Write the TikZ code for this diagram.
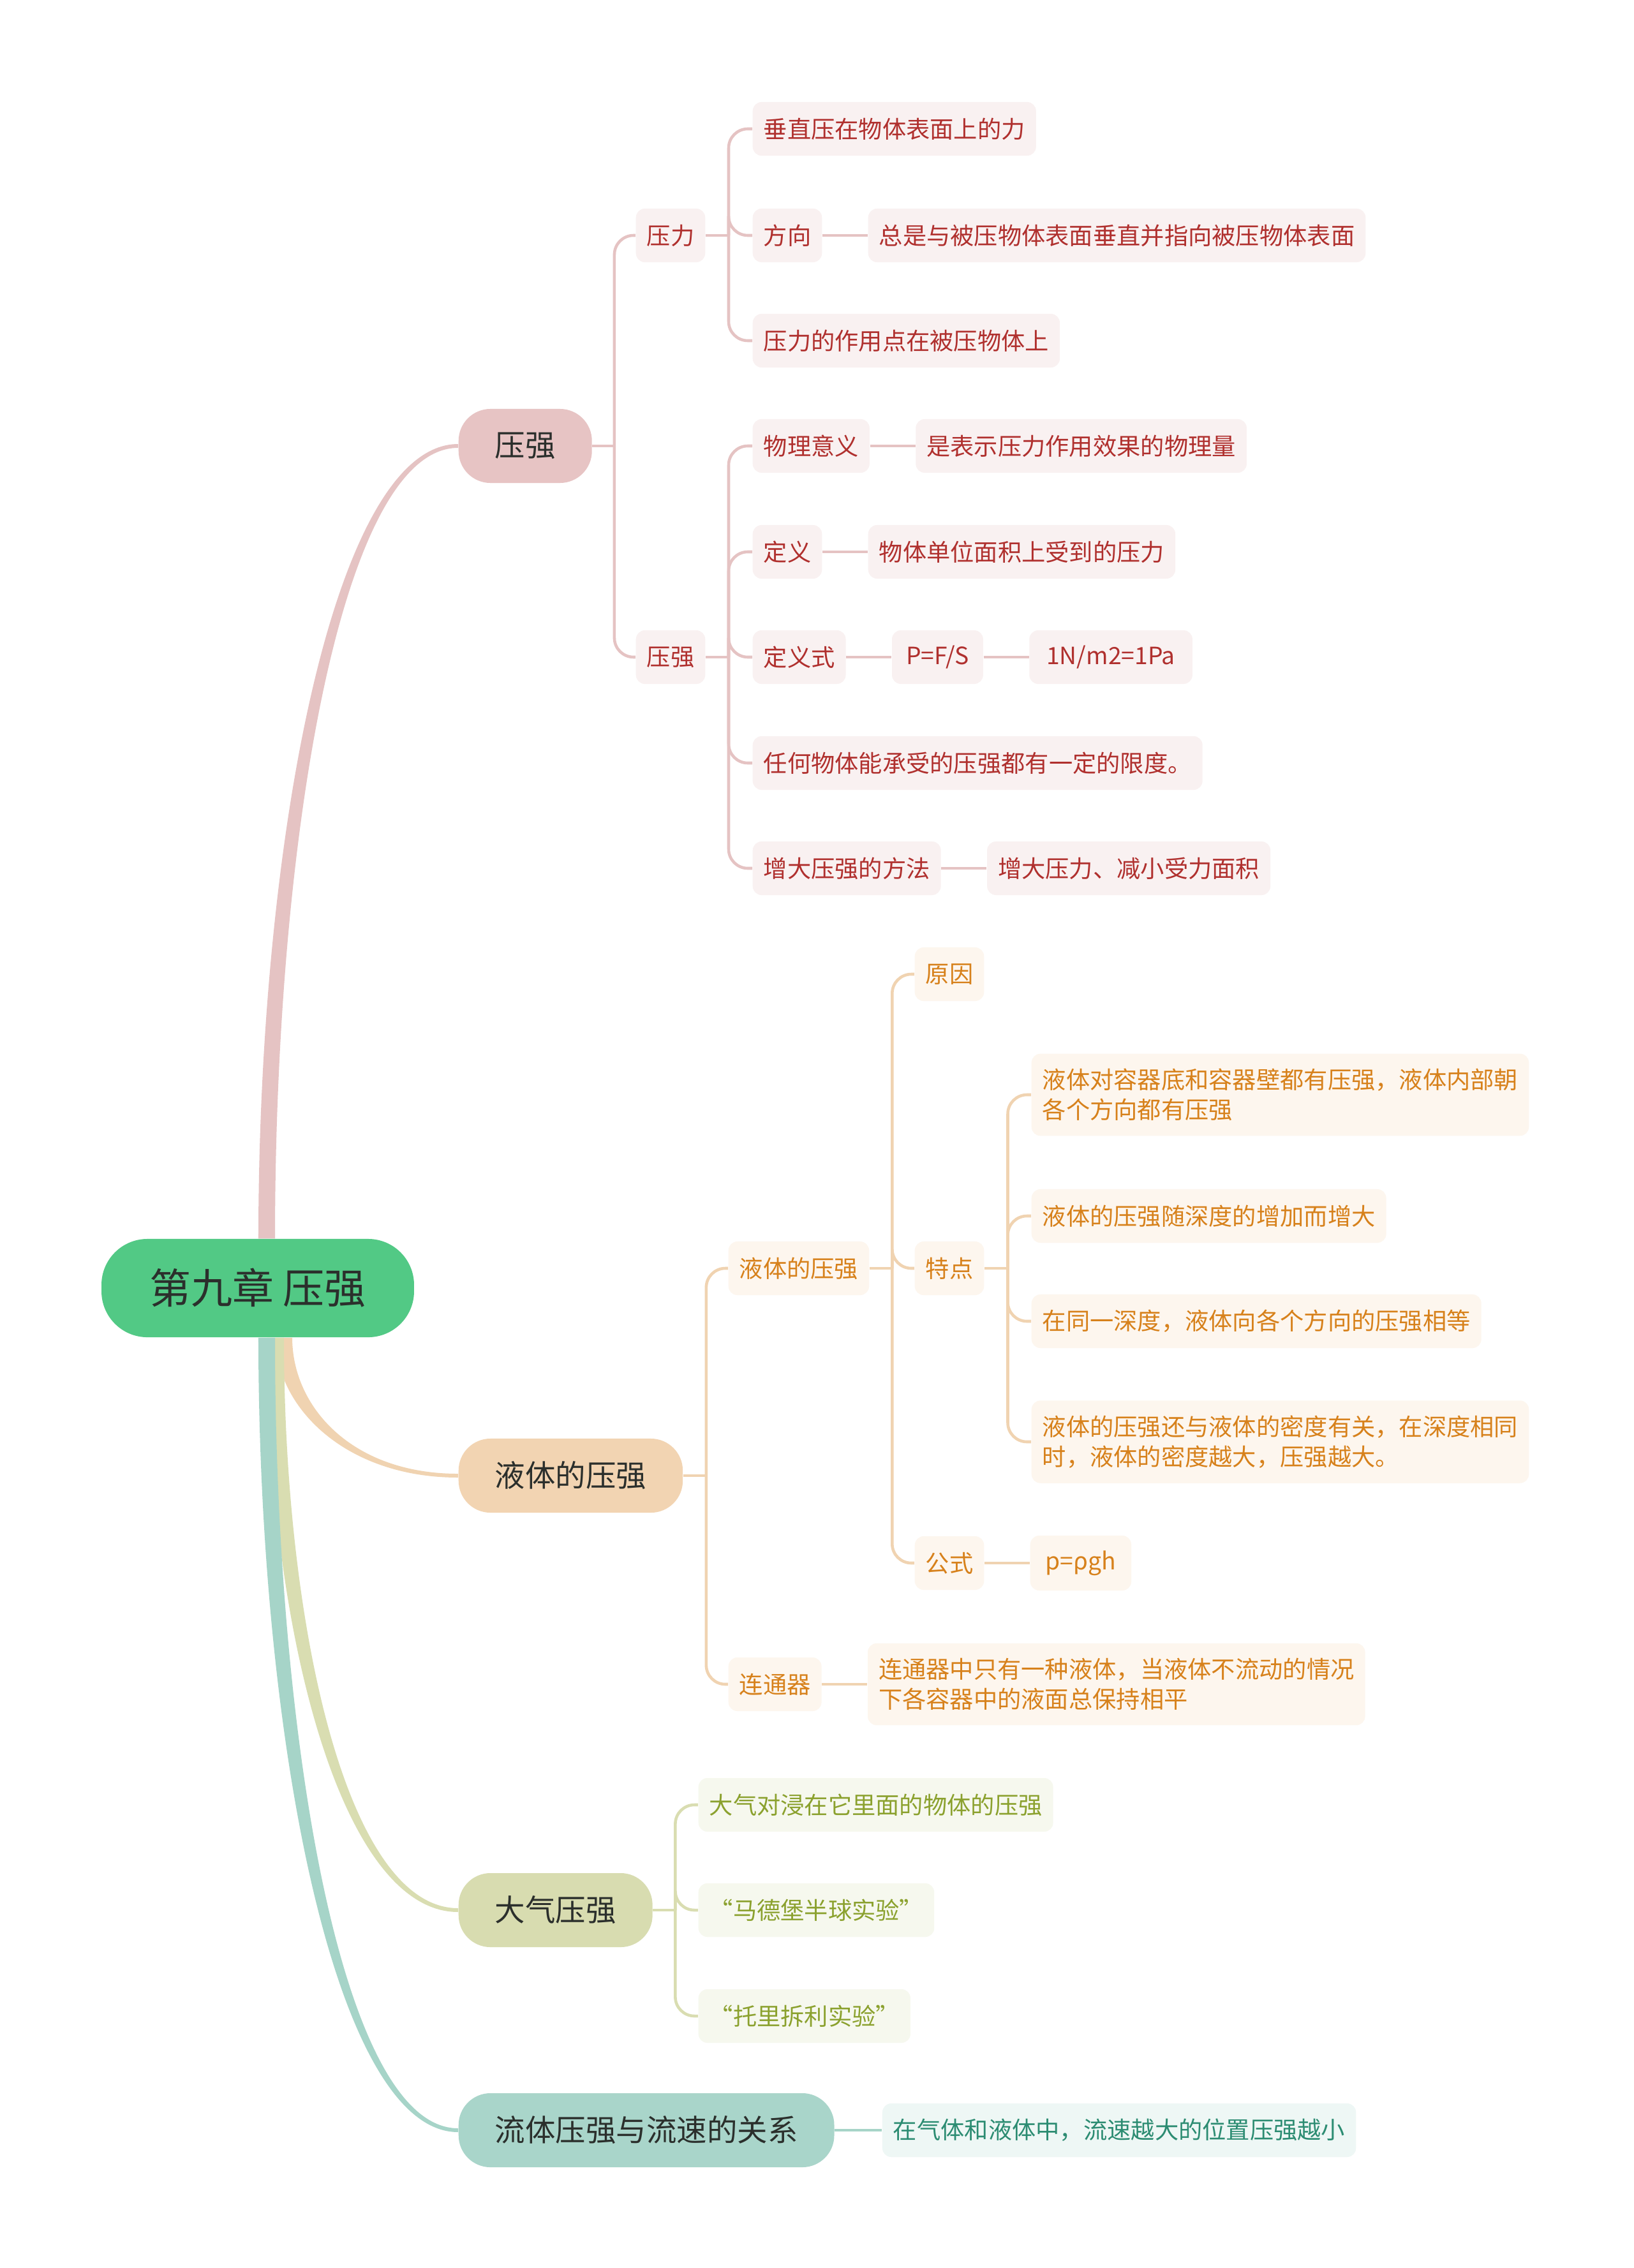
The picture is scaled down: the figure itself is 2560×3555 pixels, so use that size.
\documentclass[tikz,border=0pt]{standalone}
\usepackage{fontspec}
\setmainfont{Noto Sans CJK SC}
\usepackage{tikz}
\usetikzlibrary{positioning,calc,backgrounds}
\definecolor{rootgreen}{HTML}{52C985}
\definecolor{darktext}{HTML}{2B2F2C}
\definecolor{pinkmain}{HTML}{E7C4C4}
\definecolor{pinkleaf}{HTML}{F9F1F1}
\definecolor{pinktext}{HTML}{B0302E}
\definecolor{pinkline}{HTML}{E5C3C3}
\definecolor{orangemain}{HTML}{F2D4B2}
\definecolor{orangeleaf}{HTML}{FDF6EE}
\definecolor{orangetext}{HTML}{D7811B}
\definecolor{orangeline}{HTML}{F0D3B1}
\definecolor{olivemain}{HTML}{D8DCB0}
\definecolor{oliveleaf}{HTML}{F6F8EE}
\definecolor{olivetext}{HTML}{8BA12E}
\definecolor{oliveline}{HTML}{D9DDB1}
\definecolor{tealmain}{HTML}{A9D5CA}
\definecolor{tealleaf}{HTML}{EEF7F5}
\definecolor{tealtext}{HTML}{2C8C72}
\definecolor{tealline}{HTML}{A6D4C8}
% tapered main branch: colour, start, end, +1 up / -1 down
\newcommand{\branch}[4]{%
  \fill[#1] let \p1=(#2), \p2=(#3) in
    (\x1-3.7pt,\y1) .. controls (\x1-3.7pt,{0.5*\y1+0.5*\y2}) and ({\x1+0.35*(\x2-\x1)},{\y2+(#4)*0.85pt}) .. (\x2,{\y2+(#4)*0.85pt})
    -- (\x2,{\y2-(#4)*0.85pt}) .. controls ({\x1+0.35*(\x2-\x1)+3pt},{\y2-(#4)*0.85pt}) and (\x1+3.7pt,{0.5*\y1+0.5*\y2}) .. (\x1+3.7pt,\y1) -- cycle;}
\tikzset{
  rootnode/.style={fill=rootgreen,text=darktext,rounded corners=0.72cm,minimum height=1.54cm,inner xsep=0.75cm,font=\fontsize{18.5pt}{22pt}\selectfont},
  mainnode/.style={fill=#1main,text=darktext,rounded corners=0.5cm,minimum height=1.16cm,inner xsep=0.57cm,anchor=west,font=\fontsize{13.5pt}{16pt}\selectfont},
  leaf/.style={fill=#1leaf,text=#1text,rounded corners=0.14cm,minimum height=0.84cm,inner xsep=0.17cm,inner ysep=0.235cm,align=left,anchor=west,font=\fontsize{10.6pt}{13.3pt}\selectfont},
  link/.style={draw=#1line,line width=1.3pt,rounded corners=0.3cm},
}
\begin{document}
\begin{tikzpicture}[x=0.01cm,y=-0.01cm]
\useasboundingbox (0,0) rectangle (2560,3555);
\node[rootnode] (root) at (404,2019) {第九章 压强};
% 压强
\node[mainnode=pink] (yaqiang) at (718,699) {压强};
\node[leaf=pink] (yali) at (996,369) {压力};
\node[leaf=pink] (yqsub) at (996,1030) {压强};
\node[leaf=pink] (chuizhi) at (1179,202) {垂直压在物体表面上的力};
\node[leaf=pink] (fangxiang) at (1179,369) {方向};
\node[leaf=pink,right=0.71cm of fangxiang] (fxdesc) {总是与被压物体表面垂直并指向被压物体表面};
\node[leaf=pink] (zydian) at (1179,534) {压力的作用点在被压物体上};
\node[leaf=pink] (wuli) at (1179,699) {物理意义};
\node[leaf=pink,right=0.71cm of wuli] (wulidesc) {是表示压力作用效果的物理量};
\node[leaf=pink] (dingyi) at (1179,865) {定义};
\node[leaf=pink,right=0.71cm of dingyi] (dydesc) {物体单位面积上受到的压力};
\node[leaf=pink] (dys) at (1179,1030) {定义式};
\node[leaf=pink,inner xsep=0.22cm,right=0.71cm of dys] (pfs) {P=F/S};
\node[leaf=pink,inner xsep=0.27cm,right=0.71cm of pfs] (pa) {1N/m2=1Pa};
\node[leaf=pink] (renhe) at (1179,1196) {任何物体能承受的压强都有一定的限度。};
\node[leaf=pink] (zengda) at (1179,1361) {增大压强的方法};
\node[leaf=pink,right=0.71cm of zengda] (zddesc) {增大压力、减小受力面积};
% 液体的压强
\node[mainnode=orange] (yeti) at (718,2313) {液体的压强};
\node[leaf=orange] (ytsub) at (1141,1988) {液体的压强};
\node[leaf=orange] (yuanyin) at (1433,1527) {原因};
\node[leaf=orange] (tedian) at (1433,1988) {特点};
\node[leaf=orange] (td1) at (1616,1716) {液体对容器底和容器壁都有压强，液体内部朝\\各个方向都有压强};
\node[leaf=orange] (td2) at (1616,1906) {液体的压强随深度的增加而增大};
\node[leaf=orange] (td3) at (1616,2071) {在同一深度，液体向各个方向的压强相等};
\node[leaf=orange] (td4) at (1616,2260) {液体的压强还与液体的密度有关，在深度相同\\时，液体的密度越大，压强越大。};
\node[leaf=orange] (gongshi) at (1433,2450) {公式};
\node[leaf=orange,inner xsep=0.24cm,right=0.71cm of gongshi] (gsdesc) {p=ρgh};
\node[leaf=orange] (liantong) at (1141,2640) {连通器};
\node[leaf=orange,right=0.71cm of liantong] (ltdesc) {连通器中只有一种液体，当液体不流动的情况\\下各容器中的液面总保持相平};
% 大气压强
\node[mainnode=olive] (daqi) at (718,2994) {大气压强};
\node[leaf=olive] (dq1) at (1094,2829) {大气对浸在它里面的物体的压强};
\node[leaf=olive] (dq2) at (1094,2994) {“马德堡半球实验”};
\node[leaf=olive] (dq3) at (1094,3160) {“托里拆利实验”};
% 流体压强与流速的关系
\node[mainnode=teal] (liuti) at (718,3339) {流体压强与流速的关系};
\node[leaf=teal,right=0.74cm of liuti] (lsdesc) {在气体和液体中，流速越大的位置压强越小};
\begin{scope}[on background layer]
\fill[white] (0,0) rectangle (2560,3555);
\branch{pinkline}{$(root.north)+(14,0)$}{yaqiang.west}{1}
\branch{orangeline}{$(root.south)+(41,0)$}{yeti.west}{-1}
\branch{oliveline}{$(root.south)+(28,0)$}{daqi.west}{-1}
\branch{tealline}{$(root.south)+(14,0)$}{liuti.west}{-1}
\coordinate (yqj) at ([xshift=0.345cm]yaqiang.east);
\coordinate (ylj) at ([xshift=0.36cm]yali.east);
\coordinate (yqsj) at ([xshift=0.36cm]yqsub.east);
\coordinate (yetj) at ([xshift=0.36cm]yeti.east);
\coordinate (ytsj) at ([xshift=0.355cm]ytsub.east);
\coordinate (tdj) at ([xshift=0.365cm]tedian.east);
\coordinate (dqj) at ([xshift=0.35cm]daqi.east);
\draw[link=pink] (yaqiang.east) -- (yqj);
\foreach \c in {yali,yqsub} \draw[link=pink] (yqj) |- (\c.west);
\draw[link=pink] (yali.east) -- (ylj);
\foreach \c in {chuizhi,fangxiang,zydian} \draw[link=pink] (ylj) |- (\c.west);
\draw[link=pink] (yqsub.east) -- (yqsj);
\foreach \c in {wuli,dingyi,dys,renhe,zengda} \draw[link=pink] (yqsj) |- (\c.west);
\draw[link=pink] (fangxiang) -- (fxdesc);
\draw[link=pink] (wuli) -- (wulidesc);
\draw[link=pink] (dingyi) -- (dydesc);
\draw[link=pink] (dys) -- (pfs) -- (pa);
\draw[link=pink] (zengda) -- (zddesc);
\draw[link=orange] (yeti.east) -- (yetj);
\foreach \c in {ytsub,liantong} \draw[link=orange] (yetj) |- (\c.west);
\draw[link=orange] (ytsub.east) -- (ytsj);
\foreach \c in {yuanyin,tedian,gongshi} \draw[link=orange] (ytsj) |- (\c.west);
\draw[link=orange] (tedian.east) -- (tdj);
\foreach \c in {td1,td2,td3,td4} \draw[link=orange] (tdj) |- (\c.west);
\draw[link=orange] (gongshi) -- (gsdesc);
\draw[link=orange] (liantong) -- (ltdesc);
\draw[link=olive] (daqi.east) -- (dqj);
\foreach \c in {dq1,dq2,dq3} \draw[link=olive] (dqj) |- (\c.west);
\draw[link=teal] (liuti) -- (lsdesc);
\end{scope}
\end{tikzpicture}
\end{document}
